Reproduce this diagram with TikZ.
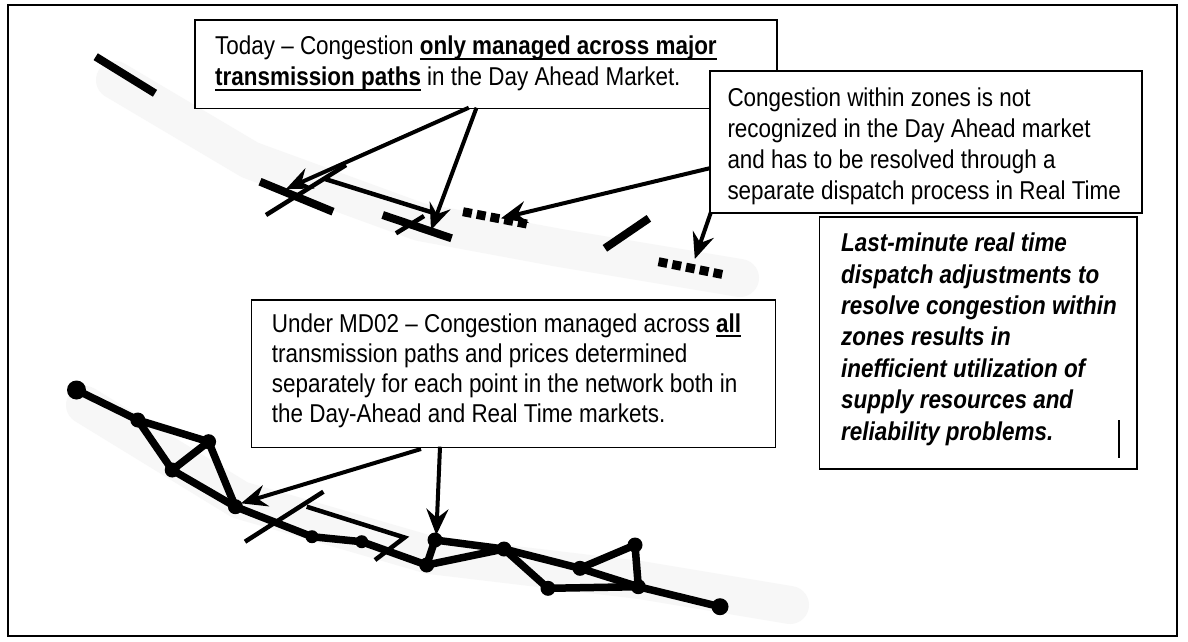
\documentclass[tikz,border=0pt]{standalone}
\usepackage{fontspec}
\setmainfont{Liberation Sans}[FakeStretch=0.87]
\usetikzlibrary{arrows.meta}
\newcommand\ulbf[1]{\setbox0\hbox{\bfseries #1}\rlap{\rule[-5pt]{\wd0}{1.8pt}}\box0\relax}
\newcommand\stacklines[2][31pt]{\vtop{\baselineskip=#1\lineskiplimit=-100pt\relax #2}}
\begin{document}
\begin{tikzpicture}[x=1pt,y=-1pt,
  box/.style={draw, line width=1.6pt, fill=white, inner sep=0pt, anchor=north west},
  txt/.style={anchor=base west, inner sep=0pt, font=\fontsize{25.8pt}{31pt}\selectfont},
  bar/.style={line width=8pt},
  thinln/.style={line width=4.5pt},
  arr/.style={line width=4pt, -{Stealth[length=26pt,width=22pt,inset=9pt]}},
  edge/.style={line width=7.5pt, line cap=round, line join=round},
  dot/.style={circle, fill=black, inner sep=0pt, minimum size=15pt},
  sqdots/.style={line width=9pt, dash pattern=on 9pt off 5pt},
  shade/.style={line width=38pt, line cap=round, line join=round, gray!6}]
\useasboundingbox (0,0) rectangle (1188,641);
\fill[white] (0,0) rectangle (1188,641);
% faint shading bands
\draw[shade] (115,80) -- (250,160) -- (420,222) -- (560,248) -- (740,278);
\draw[shade] (85,405) -- (240,500) -- (430,555) -- (640,580) -- (790,605);
% outer frame
\draw[line width=2pt] (8,5) rectangle (1177,636);

% ---------- top network (today) ----------
\coordinate (s0a) at (95.7,56.7);   \coordinate (s0b) at (155,93.3);
\coordinate (bAa) at (260,181.7);   \coordinate (bAb) at (333,211.7);
\coordinate (cAa) at (266,215);     \coordinate (cAb) at (346,165);
\coordinate (pAa) at (325,179);     \coordinate (pAb) at (434,213);
\coordinate (bBa) at (382.7,215);   \coordinate (bBb) at (451.6,238.3);
\coordinate (cBa) at (396,233.3);   \coordinate (cBb) at (424,216);
\coordinate (dAa) at (463,211.7);   \coordinate (dAb) at (526.8,224);
\coordinate (s1a) at (604.9,248.3); \coordinate (s1b) at (648.9,218.3);
\coordinate (dBa) at (658.5,261.7); \coordinate (dBb) at (722.3,274.4);
\draw[bar] (s0a) -- (s0b);
\draw[bar] (bAa) -- (bAb);
\draw[thinln] (cAa) -- (cAb);
\draw[thinln] (pAa) -- (pAb);
\draw[bar] (bBa) -- (bBb);
\draw[thinln] (cBa) -- (cBb);
\draw[sqdots] (dAa) -- (dAb);
\draw[bar] (s1a) -- (s1b);
\draw[sqdots] (dBa) -- (dBb);

% ---------- bottom network (MD02) ----------
\node[dot, minimum size=19pt] (n1) at (76.5,390) {};
\node[dot] (n2) at (137.8,420) {};
\node[dot] (n3) at (208.6,441.7) {};
\node[dot] (n4) at (172.2,470) {};
\node[dot] (n5) at (235.4,506.7) {};
\node[dot, minimum size=13pt] (n6) at (312,536.7) {};
\node[dot, minimum size=13pt] (n7) at (361.7,541.7) {};
\node[dot] (n8) at (426.7,565) {};
\node[dot] (n9) at (435,540) {};
\node[dot] (n10) at (504,549) {};
\node[dot] (n11) at (580,568.3) {};
\node[dot] (n12) at (548,588.3) {};
\node[dot] (n13) at (638.3,586.7) {};
\node[dot] (n14) at (635,545) {};
\node[dot, minimum size=17pt] (n15) at (720,606.7) {};
\foreach \a/\b in {n1/n2,n2/n3,n2/n4,n3/n4,n3/n5,n4/n5,n5/n6,n6/n7,n7/n8,n8/n9,
  n9/n10,n8/n10,n10/n11,n10/n12,n12/n13,n11/n14,n11/n13,n14/n13,n13/n15}
  \draw[edge] (\a.center) -- (\b.center);
\coordinate (cCa) at (245,541.7);   \coordinate (cCb) at (323.4,491.7);
\coordinate (pCa) at (306.7,506.7); \coordinate (pCb) at (404.5,537.5);
\coordinate (pCc) at (375,560);
\draw[thinln] (cCa) -- (cCb);
\draw[thinln, line join=miter] (pCa) -- (pCb) -- (pCc);

% ---------- boxes ----------
\node[box, minimum width=581.6pt, minimum height=88.7pt] (b1) at (194.4,19) {};
\node[txt] (t1) at (215,54.5) {\stacklines{%
  \hbox{Today -- Congestion \ulbf{only managed across major}}
  \hbox{\ulbf{transmission paths} in the Day Ahead Market.}}};
\node[box, minimum width=431.6pt, minimum height=142pt] (b2) at (709.4,70) {};
\node[txt] (t2) at (727.3,106) {\stacklines{%
  \hbox{Congestion within zones is not}
  \hbox{recognized in the Day Ahead market}
  \hbox{and has to be resolved through a}
  \hbox{separate dispatch process in Real Time}}};
\node[box, minimum width=317.2pt, minimum height=252pt] (b3) at (818.8,216) {};
\node[txt, font=\fontsize{25.8pt}{31pt}\selectfont\bfseries\itshape] (t3) at (841,251.7) {\stacklines[31.4pt]{%
  \hbox{Last-minute real time}
  \hbox{dispatch adjustments to}
  \hbox{resolve congestion within}
  \hbox{zones results in}
  \hbox{inefficient utilization of}
  \hbox{supply resources and}
  \hbox{reliability problems.}}};
\coordinate (vba) at (1119,420); \coordinate (vbb) at (1119,458);
\draw[line width=1.5pt] (vba) -- (vbb);
\node[box, minimum width=523.9pt, minimum height=147.7pt] (b4) at (250.7,299) {};
\node[txt] (t4) at (271.7,332) {\stacklines[30pt]{%
  \hbox{Under MD02 -- Congestion managed across \ulbf{all}}
  \hbox{transmission paths and prices determined}
  \hbox{separately for each point in the network both in}
  \hbox{the Day-Ahead and Real Time markets.}}};

% ---------- arrows ----------
\coordinate (a1s) at (468.8,107.7); \coordinate (a1t) at (286,189);
\coordinate (a2s) at (476.5,107.7); \coordinate (a2t) at (431,230);
\coordinate (a3s) at (709.4,168.3); \coordinate (a3t) at (501,218.3);
\coordinate (a4s) at (711,212);     \coordinate (a4t) at (694.8,259);
\coordinate (a5s) at (421,449);     \coordinate (a5t) at (241,503.3);
\coordinate (a6s) at (440,446.7);   \coordinate (a6t) at (436.3,535);
\draw[arr] (a1s) -- (a1t);
\draw[arr] (a2s) -- (a2t);
\draw[arr] (a3s) -- (a3t);
\draw[arr] (a4s) -- (a4t);
\draw[arr] (a5s) -- (a5t);
\draw[arr] (a6s) -- (a6t);
\end{tikzpicture}
\end{document}
